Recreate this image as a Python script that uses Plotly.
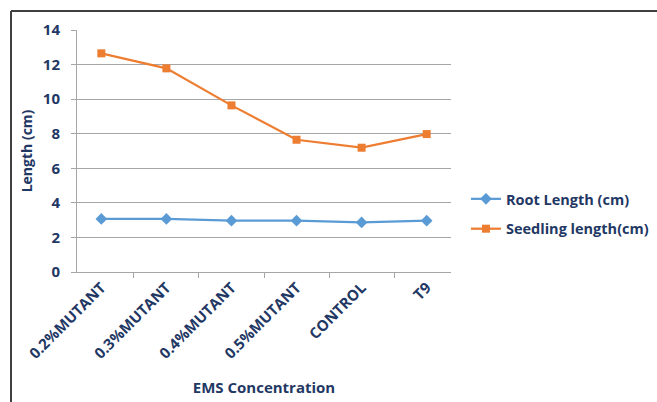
import plotly.graph_objects as go

categories = ["0.2%MUTANT", "0.3%MUTANT", "0.4%MUTANT", "0.5%MUTANT", "CONTROL", "T9"]
root_length = [3.07, 3.07, 2.97, 2.97, 2.87, 2.97]
seedling_length = [12.65, 11.78, 9.64, 7.65, 7.19, 7.98]
y_ticks = [0, 2, 4, 6, 8, 10, 12, 14]

TEXT = "#1F3864"
GRID = "#A6A6A6"
FONT = "Open Sans"

fig = go.Figure()
fig.add_trace(go.Scatter(
    x=categories, y=root_length, name="Root Length (cm)",
    mode="lines+markers", legendgroup="root",
    line=dict(color="#5B9BD5", width=2.25),
    marker=dict(symbol="diamond", size=9, color="#5B9BD5"),
))
fig.add_trace(go.Scatter(
    x=categories, y=seedling_length, name="Seedling length(cm)",
    mode="lines+markers", legendgroup="seedling",
    line=dict(color="#ED7D31", width=2.25),
    marker=dict(symbol="square", size=8, color="#ED7D31"),
))

L, R, T, B = 77, 206, 30, 130
W, H = 657, 402
pw, ph = W - L - R, H - T - B

fig.update_layout(
    width=W, height=H,
    margin=dict(l=L, r=R, t=T, b=B, autoexpand=False),
    paper_bgcolor="white", plot_bgcolor="white",
    font=dict(family=FONT, color=TEXT, size=14),
    showlegend=True,
    legend=dict(
        x=1.04, y=0.24, xanchor="left", yanchor="middle",
        font=dict(family=FONT, size=14.5, color=TEXT, weight="bold"),
        bgcolor="rgba(0,0,0,0)", traceorder="grouped", tracegroupgap=8,
    ),
    xaxis=dict(
        type="category",
        automargin=False,
        tickangle=-45,
        tickson="boundaries",
        ticks="outside", ticklen=5, tickcolor=GRID,
        showline=True, linecolor=GRID, linewidth=1,
        showgrid=False,
        tickfont=dict(family=FONT, size=15, color=TEXT, weight="bold"),
        title=dict(text="EMS Concentration", standoff=20,
                   font=dict(family=FONT, size=15, color=TEXT, weight="bold")),
    ),
    yaxis=dict(
        automargin=False,
        range=[0, 14],
        tickvals=y_ticks,
        ticks="outside", ticklen=5, tickcolor=GRID,
        ticklabelstandoff=8,
        showline=True, linecolor=GRID, linewidth=1,
        showgrid=True, gridcolor=GRID, gridwidth=1,
        zeroline=False,
        tickfont=dict(family=FONT, size=15, color=TEXT, weight="bold"),
        title=dict(text="Length (cm)", standoff=6,
                   font=dict(family=FONT, size=14, color=TEXT, weight="bold")),
    ),
)

# Outer chart frame (left and top edges)
fx0 = (11 - L) / pw
fy1 = 1 + (T - 11) / ph
fig.add_shape(type="line", xref="paper", yref="paper",
              x0=fx0, x1=fx0, y0=fy1, y1=-1.0,
              line=dict(color="#404040", width=2))
fig.add_shape(type="line", xref="paper", yref="paper",
              x0=fx0, x1=3.0, y0=fy1, y1=fy1,
              line=dict(color="#404040", width=2))

fig.write_html("out.html")
